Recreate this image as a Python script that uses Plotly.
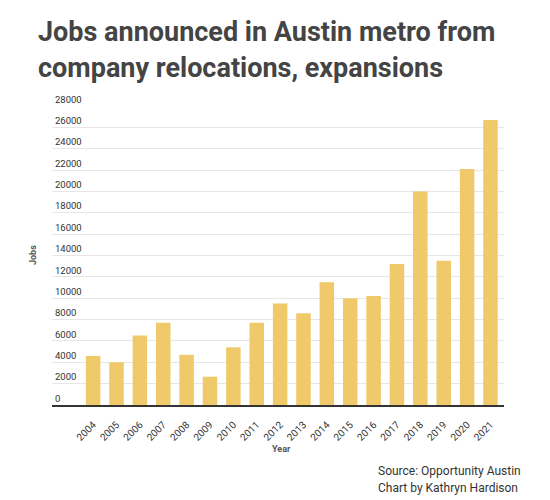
import plotly.graph_objects as go

years = [str(y) for y in range(2004, 2022)]
jobs = [4600, 4000, 6500, 7700, 4700, 2650, 5400, 7700, 9500,
        8600, 11500, 10000, 10200, 13200, 20000, 13500, 22100, 26700]
y_ticks = list(range(0, 28001, 2000))

W, H = 550, 500
L, R, T, B = 52, 46, 106, 95

fig = go.Figure()
fig.add_trace(go.Bar(x=list(range(len(years))), y=jobs,
                     marker=dict(color='#EFC96A', line=dict(width=0)),
                     hoverinfo='skip'))

fig.update_layout(
    width=W, height=H,
    margin=dict(l=L, r=R, t=T, b=B),
    paper_bgcolor='white', plot_bgcolor='white',
    showlegend=False,
    bargap=0.38,
    font=dict(family='Roboto', color='#333'),
    xaxis=dict(
        range=[-1.76, 17.58],
        tickmode='array', tickvals=list(range(len(years))), ticktext=years,
        tickangle=-45, tickfont=dict(size=10, color='#333'),
        ticks='outside', ticklen=8, tickcolor='rgba(0,0,0,0)',
        showgrid=False, zeroline=False,
        showline=True, linecolor='#333', linewidth=2,
        fixedrange=True,
    ),
    yaxis=dict(
        range=[0, 28000],
        tickmode='array', tickvals=y_ticks,
        ticktext=[str(v) for v in y_ticks],
        ticklabelposition='inside top', ticklabeloverflow='allow',
        tickfont=dict(size=9.5, color='#333'),
        showgrid=True, gridcolor='#e6e6e6', gridwidth=1,
        zeroline=False, showline=False,
        fixedrange=True,
    ),
)

ann = []
# title
ann.append(dict(text='<b>Jobs announced in Austin metro from</b>',
                xref='paper', yref='paper', x=(36 - L) / (W - L - R),
                y=1 + (T - 14) / (H - T - B),
                xanchor='left', yanchor='top', showarrow=False,
                font=dict(family='Roboto', size=27, color='#444')))
ann.append(dict(text='<b>company relocations, expansions</b>',
                xref='paper', yref='paper', x=(36 - L) / (W - L - R),
                y=1 + (T - 50) / (H - T - B),
                xanchor='left', yanchor='top', showarrow=False,
                font=dict(family='Roboto', size=27, color='#444')))
# axis titles
ann.append(dict(text='<b>Jobs</b>', xref='paper', yref='paper',
                x=(33 - L) / (W - L - R), y=(H - B - 255) / (H - T - B),
                xanchor='center', yanchor='middle', textangle=-90,
                showarrow=False, font=dict(size=9, color='#555')))
ann.append(dict(text='<b>Year</b>', xref='paper', yref='paper',
                x=(281 - L) / (W - L - R), y=-(449 - (H - B)) / (H - T - B),
                xanchor='center', yanchor='middle',
                showarrow=False, font=dict(size=9, color='#555')))
# source
ann.append(dict(text='Source: Opportunity Austin', xref='paper', yref='paper',
                x=(376 - L) / (W - L - R), y=-(471 - (H - B)) / (H - T - B),
                xanchor='left', yanchor='middle',
                showarrow=False, font=dict(size=12, color='#333')))
ann.append(dict(text='Chart by Kathryn Hardison', xref='paper', yref='paper',
                x=(376 - L) / (W - L - R), y=-(488 - (H - B)) / (H - T - B),
                xanchor='left', yanchor='middle',
                showarrow=False, font=dict(size=12, color='#333')))
fig.update_layout(annotations=ann)

fig.write_html("out.html", config={'displayModeBar': False},
               post_script="document.body.style.margin='0';")
